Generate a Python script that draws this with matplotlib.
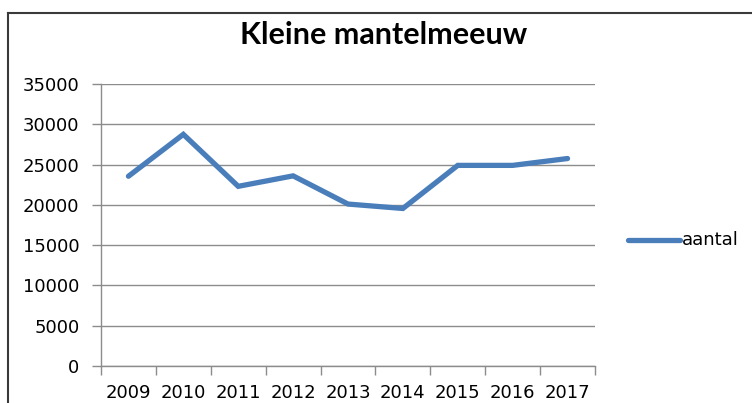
import matplotlib
matplotlib.use("Agg")
import matplotlib.pyplot as plt
from matplotlib.lines import Line2D

years = ['2009', '2010', '2011', '2012', '2013', '2014', '2015', '2016', '2017']
aantal = [23550, 28750, 22300, 23600, 20100, 19550, 24900, 24900, 25750]
y_ticks = [0, 5000, 10000, 15000, 20000, 25000, 30000, 35000]

W, H = 752, 403
fig = plt.figure(figsize=(W / 100, H / 100), dpi=100)

# chart frame (cut off at right and bottom like the screenshot)
fig.add_artist(Line2D([8 / W, 1.0], [1 - 13 / H, 1 - 13 / H], color='#3a3a3a', lw=1.5))
fig.add_artist(Line2D([8 / W, 8 / W], [0.0, 1 - 13 / H], color='#3a3a3a', lw=1.5))

ax = fig.add_axes([101 / W, 1 - 366 / H, (595 - 101) / W, (366 - 84) / H])

x = list(range(len(years)))
ax.plot(x, aantal, color='#4a7ebb', lw=3.8, solid_joinstyle='miter', solid_capstyle='round')

ax.set_xlim(-0.5, len(years) - 0.5)
ax.set_ylim(0, 35000)
ax.set_yticks(y_ticks)
ax.set_yticklabels([str(v) for v in y_ticks])
ax.set_xticks(x)
ax.set_xticklabels(years)
ax.set_xticks([i - 0.5 for i in range(len(years) + 1)], minor=True)

ax.grid(axis='y', color='#8c8c8c', lw=1.0)
ax.set_axisbelow(True)
for s in ['top', 'right']:
    ax.spines[s].set_visible(False)
for s in ['left', 'bottom']:
    ax.spines[s].set_color('#8c8c8c')
    ax.spines[s].set_linewidth(1.0)

ax.tick_params(axis='y', length=6.5, width=1.0, color='#8c8c8c', pad=9, labelsize=13)
ax.tick_params(axis='x', which='major', length=0, pad=13, labelsize=13)
ax.tick_params(axis='x', which='minor', length=6.5, width=1.0, color='#8c8c8c')

fig.text(383.5 / W, 1 - 44.3 / H, 'Kleine mantelmeeuw', ha='center', va='baseline',
         fontsize=22, fontweight='bold', family='Lato')

# legend
fig.add_artist(Line2D([628 / W, 680 / W], [1 - 240 / H, 1 - 240 / H], color='#4a7ebb', lw=3.8,
                      solid_capstyle='round'))
fig.text(682 / W, 1 - 240 / H, 'aantal', ha='left', va='center', fontsize=13)

fig.savefig('out.png', dpi=100)
